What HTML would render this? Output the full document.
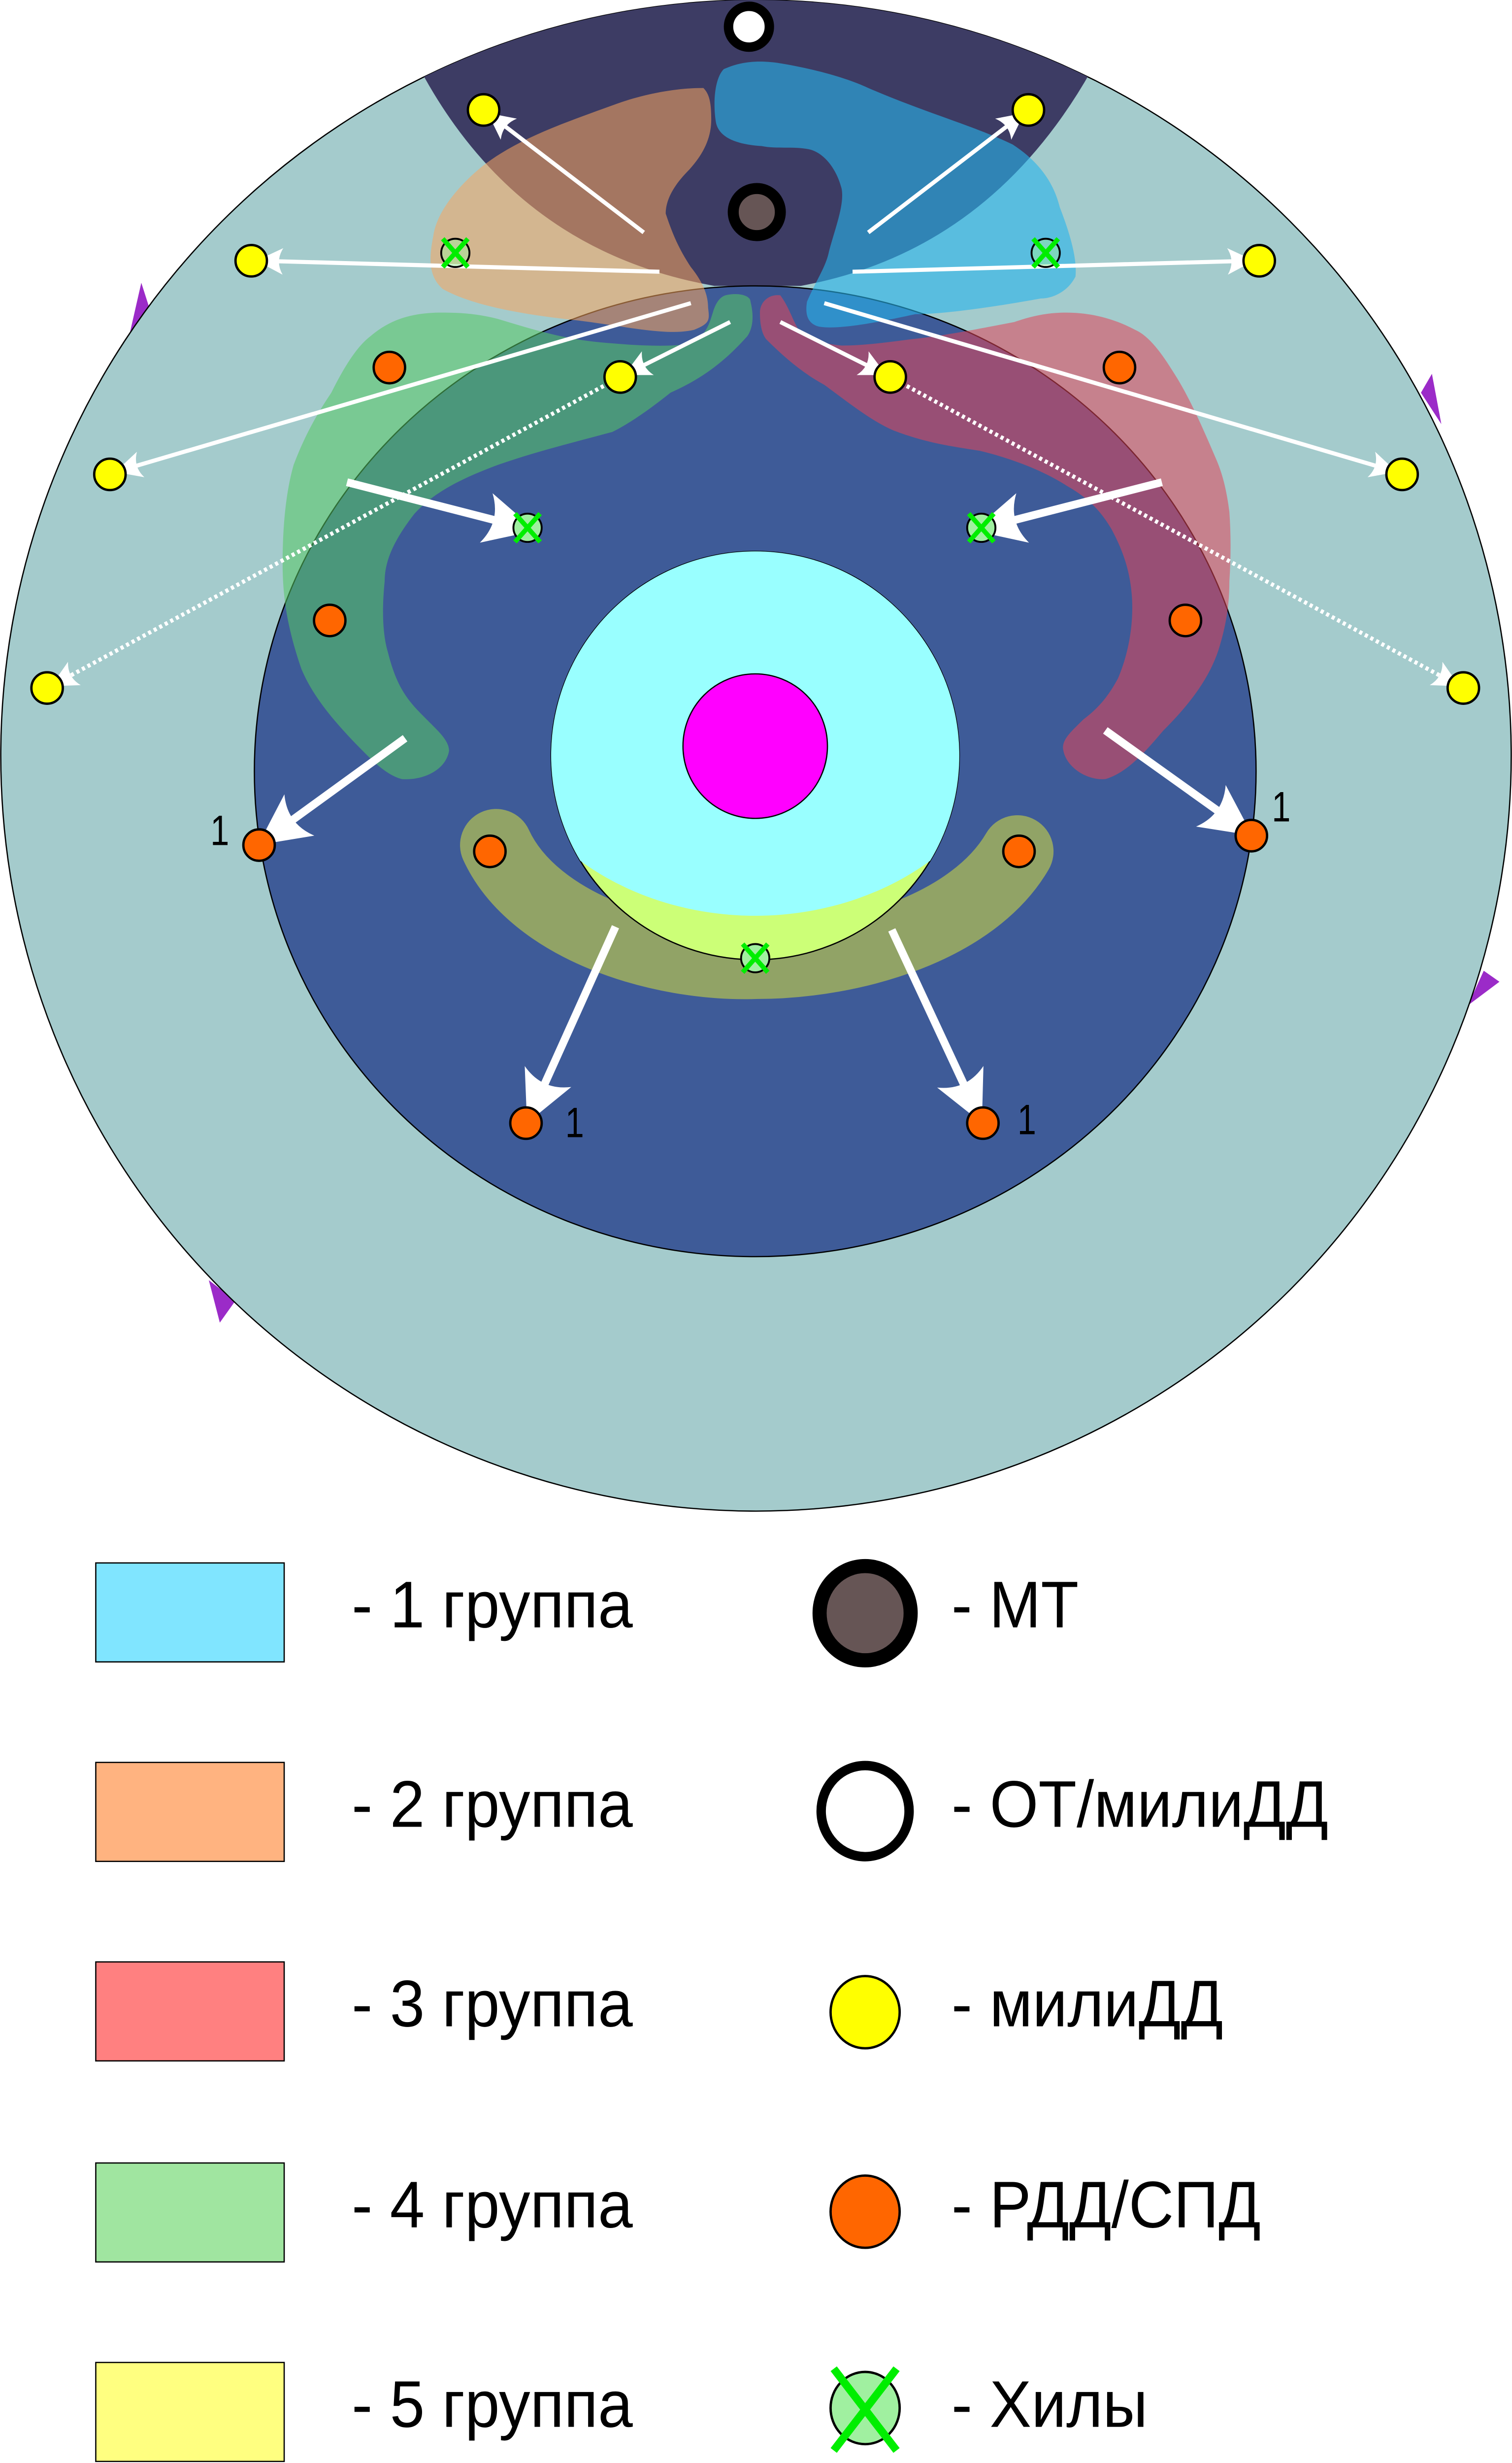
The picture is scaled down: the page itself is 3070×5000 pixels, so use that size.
<!DOCTYPE html>
<html><head><meta charset="utf-8"><style>
html,body{margin:0;padding:0;background:#fff}
svg{display:block}
text{font-family:"Liberation Sans",sans-serif}
</style></head><body>
<svg width="3070" height="5000" viewBox="0 0 963 1568" preserveAspectRatio="none" xmlns="http://www.w3.org/2000/svg">
<defs>
<marker id="ah" viewBox="0 0 10 10" refX="9" refY="5" markerWidth="6.5" markerHeight="6.5" orient="auto" markerUnits="strokeWidth"><path d="M0,0 L10,5 L0,10 Q3,5 0,0 z" fill="#fff"/></marker>
<marker id="ahb" viewBox="0 0 10 10" refX="9" refY="5" markerWidth="6.5" markerHeight="6.5" orient="auto" markerUnits="strokeWidth"><path d="M0,0 L10,5 L0,10 Q3,5 0,0 z" fill="#fff"/></marker>
<clipPath id="cc"><circle cx="481" cy="481" r="130"/></clipPath>
<clipPath id="oc"><circle cx="481.5" cy="481" r="481"/></clipPath>
</defs>

<path d="M82,215 L90,180 L98,205 z" fill="#9b2bc8"/>
<path d="M905,250 L912,238 L918,270 z" fill="#9b2bc8"/>
<path d="M935,640 L945,618 L955,625 z" fill="#9b2bc8"/>
<path d="M133,815 L140,842 L150,828 z" fill="#9b2bc8"/>

<circle cx="481.5" cy="481" r="481" fill="#a4cbcc" stroke="#000" stroke-width="0.8"/>
<path d="M268,45 Q330,160 455,182 L510,182 Q630,160 695,45 A481,481 0 0 0 268,45 z" fill="#3d3c64" clip-path="url(#oc)"/>
<ellipse cx="481" cy="491" rx="319" ry="309" fill="#3e5b98" stroke="#000" stroke-width="0.8"/>

<path d="M316,538 C340,590 420,615 481,613 C545,613 620,590 648,542" fill="none" stroke="#91a366" stroke-width="46" stroke-linecap="round"/>

<circle cx="481" cy="481" r="130" fill="#ccff77" stroke="#000" stroke-width="0.8"/>
<ellipse cx="481" cy="440" rx="170" ry="143" fill="#99ffff" clip-path="url(#cc)"/>
<circle cx="481" cy="475" r="46" fill="#ff00ff" stroke="#000" stroke-width="0.8"/>

<!-- group 4 green -->
<path d="M462,188 C470,186 478,188 478,192 C480,200 480,208 476,214 C460,232 445,242 427,250 C412,262 400,270 390,275 C360,283 340,288 317,296 C290,306 275,315 264,327 C250,345 245,358 245,370 C243,390 244,405 247,415 C252,435 258,443 264,450 C276,463 286,470 286,478 C284,490 270,497 256,496 C248,494 240,487 234,481 C215,462 200,445 192,426 C183,400 180,380 180,359 C180,330 183,310 187,296 C195,275 203,262 211,250 C220,232 228,220 236,214 C250,202 265,199 282,199 C295,199 305,200 317,203 C340,210 360,216 383,218 C405,220 425,221 438,219 C450,215 452,205 454,199 C456,192 459,189 462,188 z" fill="rgb(85,200,100)" fill-opacity="0.55"/>

<!-- group 3 red -->
<path d="M497,188 C490,187 484,192 484,199 C484,206 485,212 488,216 C500,228 512,238 525,245 C540,256 555,268 569,274 C590,282 605,284 624,287 C645,292 665,300 679,309 C695,318 702,327 708,337 C716,352 720,365 721,381 C722,400 718,418 712,432 C705,445 698,452 690,458 C683,465 677,470 677,476 C678,488 692,497 704,496 C718,492 730,478 741,465 C758,448 770,432 776,414 C781,398 783,385 783,370 C784,355 784,340 783,326 C781,310 778,300 774,291 C765,270 757,252 748,238 C740,225 732,214 723,210 C710,203 695,199 679,199 C665,199 655,202 646,205 C620,210 600,214 580,216 C565,218 550,220 536,220 C525,219 516,216 510,212 C505,205 503,196 497,188 z" fill="rgb(225,70,90)" fill-opacity="0.55"/>

<!-- group 2 orange -->
<path d="M448,56 C430,56 410,60 393,66 C360,78 330,88 307,106 C290,120 278,136 276,150 C273,165 273,176 282,184 C300,194 330,200 368,204 C400,208 425,214 442,210 C452,206 452,204 451,196 C451,188 448,180 440,170 C432,158 428,148 424,136 C424,125 432,115 439,108 C448,98 453,88 453,76 C453,66 452,60 448,56 z" fill="rgb(250,165,95)" fill-opacity="0.55"/>

<!-- group 1 blue -->
<path d="M461,44 C470,40 480,38 495,40 C520,44 540,50 553,56 C590,72 620,80 645,92 C665,105 672,120 675,132 C682,150 686,165 685,176 C680,186 670,190 663,190 C630,196 600,200 583,200 C560,205 535,210 522,208 C513,206 513,198 514,192 C520,178 526,170 528,160 C532,145 538,130 536,120 C533,108 525,97 515,95 C505,93 495,95 485,93 C470,92 458,88 456,78 C454,66 455,50 461,44 z" fill="rgb(40,180,235)" fill-opacity="0.6"/>

<g stroke="#fff" stroke-width="2.6" fill="none" marker-end="url(#ah)">
<line x1="410" y1="148" x2="312" y2="73"/>
<line x1="553" y1="148" x2="651" y2="73"/>
<line x1="420" y1="173" x2="165" y2="166"/>
<line x1="543" y1="173" x2="797" y2="166"/>
<line x1="440" y1="193" x2="75" y2="300"/>
<line x1="525" y1="193" x2="888" y2="300"/>
<line x1="465" y1="205" x2="399" y2="238"/>
<line x1="497" y1="205" x2="563" y2="238"/>
<line x1="395" y1="240" x2="34" y2="436" stroke-dasharray="2,2"/>
<line x1="567" y1="240" x2="928" y2="436" stroke-dasharray="2,2"/>
</g>
<g stroke="#fff" stroke-width="5" fill="none" marker-end="url(#ahb)">
<line x1="221" y1="307" x2="338" y2="337"/>
<line x1="740" y1="307" x2="623" y2="337"/>
<line x1="258" y1="470" x2="167" y2="536"/>
<line x1="704" y1="465" x2="795" y2="530"/>
<line x1="392" y1="590" x2="337" y2="712"/>
<line x1="568" y1="592" x2="624" y2="712"/>
</g>

<circle cx="477" cy="17" r="13" fill="#fff" stroke="#000" stroke-width="6"/>
<circle cx="482" cy="135" r="15" fill="#665555" stroke="#000" stroke-width="7"/>

<g fill="#ffff00" stroke="#000" stroke-width="1.5">
<circle cx="308" cy="70" r="10"/><circle cx="655" cy="70" r="10"/>
<circle cx="160" cy="166" r="10"/><circle cx="802" cy="166" r="10"/>
<circle cx="70" cy="302" r="10"/><circle cx="893" cy="302" r="10"/>
<circle cx="30" cy="438" r="10"/><circle cx="932" cy="438" r="10"/>
<circle cx="395" cy="240" r="10"/><circle cx="567" cy="240" r="10"/>
</g>
<g fill="#ff6600" stroke="#000" stroke-width="1.5">
<circle cx="248" cy="234" r="10"/><circle cx="713" cy="234" r="10"/>
<circle cx="210" cy="395" r="10"/><circle cx="755" cy="395" r="10"/>
<circle cx="165" cy="538" r="10"/><circle cx="797" cy="532" r="10"/>
<circle cx="312" cy="542" r="10"/><circle cx="649" cy="542" r="10"/>
<circle cx="335" cy="715" r="10"/><circle cx="626" cy="715" r="10"/>
</g>
<g>
<g transform="translate(290,161)"><circle r="9" fill="#a0f0a0" fill-opacity="0.5" stroke="#000" stroke-width="1.2"/><path d="M-8,-9 L8,9 M8,-9 L-8,9" stroke="#00ee00" stroke-width="3"/></g>
<g transform="translate(666,161)"><circle r="9" fill="#a0f0a0" fill-opacity="0.5" stroke="#000" stroke-width="1.2"/><path d="M-8,-9 L8,9 M8,-9 L-8,9" stroke="#00ee00" stroke-width="3"/></g>
<g transform="translate(336,336)"><circle r="9" fill="#a0f0a0" stroke="#000" stroke-width="1.2"/><path d="M-8,-9 L8,9 M8,-9 L-8,9" stroke="#00ee00" stroke-width="3"/></g>
<g transform="translate(625,336)"><circle r="9" fill="#a0f0a0" stroke="#000" stroke-width="1.2"/><path d="M-8,-9 L8,9 M8,-9 L-8,9" stroke="#00ee00" stroke-width="3"/></g>
<g transform="translate(481,610)"><circle r="9" fill="#a0f0a0" stroke="#000" stroke-width="1.2"/><path d="M-8,-9 L8,9 M8,-9 L-8,9" stroke="#00ee00" stroke-width="3"/></g>
</g>

<g font-size="27" fill="#000">
<text x="134" y="538" textLength="12" lengthAdjust="spacingAndGlyphs">1</text>
<text x="810" y="523" textLength="12" lengthAdjust="spacingAndGlyphs">1</text>
<text x="360" y="724" textLength="12" lengthAdjust="spacingAndGlyphs">1</text>
<text x="648" y="722" textLength="12" lengthAdjust="spacingAndGlyphs">1</text>
</g>

<g stroke="#000" stroke-width="0.8">
<rect x="61" y="995" width="120" height="63" fill="#80e5ff"/>
<rect x="61" y="1122" width="120" height="63" fill="#ffb380"/>
<rect x="61" y="1249" width="120" height="63" fill="#ff8080"/>
<rect x="61" y="1377" width="120" height="63" fill="#a0e5a0"/>
<rect x="61" y="1504" width="120" height="63" fill="#ffff80"/>
</g>
<g font-size="42" fill="#000">
<text x="224" y="1036" textLength="179" lengthAdjust="spacingAndGlyphs">- 1 группа</text>
<text x="224" y="1163" textLength="179" lengthAdjust="spacingAndGlyphs">- 2 группа</text>
<text x="224" y="1290" textLength="179" lengthAdjust="spacingAndGlyphs">- 3 группа</text>
<text x="224" y="1418" textLength="179" lengthAdjust="spacingAndGlyphs">- 4 группа</text>
<text x="224" y="1545" textLength="179" lengthAdjust="spacingAndGlyphs">- 5 группа</text>
<text x="606" y="1036" textLength="81" lengthAdjust="spacingAndGlyphs">- МТ</text>
<text x="606" y="1163" textLength="240" lengthAdjust="spacingAndGlyphs">- ОТ/милиДД</text>
<text x="606" y="1290" textLength="173" lengthAdjust="spacingAndGlyphs">- милиДД</text>
<text x="606" y="1418" textLength="197" lengthAdjust="spacingAndGlyphs">- РДД/СПД</text>
<text x="606" y="1545" textLength="125" lengthAdjust="spacingAndGlyphs">- Хилы</text>
</g>
<ellipse cx="551" cy="1027" rx="29" ry="30" fill="#665555" stroke="#000" stroke-width="9"/>
<ellipse cx="551" cy="1153" rx="28" ry="29" fill="#fff" stroke="#000" stroke-width="6"/>
<ellipse cx="551" cy="1281" rx="22" ry="23" fill="#ffff00" stroke="#000" stroke-width="1.5"/>
<ellipse cx="551" cy="1408" rx="22" ry="23" fill="#ff6600" stroke="#000" stroke-width="1.5"/>
<ellipse cx="551" cy="1533" rx="22" ry="23" fill="#a0f0a0" stroke="#000" stroke-width="1.5"/>
<path d="M531,1508 L571,1560 M571,1508 L531,1560" stroke="#00ee00" stroke-width="5"/>
</svg>
</body></html>
